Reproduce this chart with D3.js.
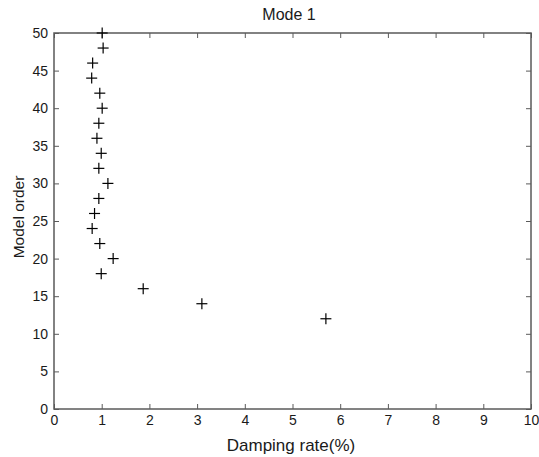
<!DOCTYPE html>
<html>
<head>
<meta charset="utf-8">
<script src="https://cdn.jsdelivr.net/npm/d3@7"></script>
<style>
  body { margin: 0; background: #fff; }
  text { font-family: "Liberation Sans", Arial, sans-serif; fill: #1a1a1a; }
</style>
</head>
<body>
<svg id="vis"></svg>
<script>
// damping rate (%) per model order
const modelOrder = [50, 48, 46, 44, 42, 40, 38, 36, 34, 32, 30, 28, 26, 24, 22, 20, 18, 16, 14, 12];
const dampingRate = [1.01, 1.03, 0.81, 0.79, 0.96, 1.01, 0.94, 0.90, 0.99, 0.94, 1.13, 0.94, 0.85, 0.80, 0.96, 1.24, 0.99, 1.87, 3.10, 5.70];
const xTicks = [0, 1, 2, 3, 4, 5, 6, 7, 8, 9, 10];
const yTicks = [0, 5, 10, 15, 20, 25, 30, 35, 40, 45, 50];

const width = 539, height = 457;
const margin = {left: 54, right: 8, top: 33, bottom: 48};
const AXIS_COLOUR = '#5a5a5a';

var svg = d3.select('#vis').attr('width', width).attr('height', height);

var x = d3.scaleLinear().domain([0, 10]).range([margin.left, width - margin.right]);
var y = d3.scaleLinear().domain([0, 50]).range([height - margin.bottom, margin.top]);

function styleAxis(g) {
    g.select('.domain').remove();
    g.selectAll('.tick line').attr('stroke', AXIS_COLOUR);
    g.selectAll('.tick text').attr('font-size', 14).attr('fill', '#1a1a1a')
        .attr('font-family', '"Liberation Sans", Arial, sans-serif');
}

// bottom and left with labels, top and right without (ticks point inward)
svg.append('g').attr('transform', 'translate(0,' + y(0) + ')')
    .call(d3.axisBottom(x).tickValues(xTicks).tickFormat(d3.format('d')).tickSizeInner(-5).tickSizeOuter(0).tickPadding(6))
    .call(styleAxis);
svg.append('g').attr('transform', 'translate(0,' + y(50) + ')')
    .call(d3.axisTop(x).tickValues(xTicks).tickFormat('').tickSizeInner(-5).tickSizeOuter(0))
    .call(styleAxis);
svg.append('g').attr('transform', 'translate(' + x(0) + ',0)')
    .call(d3.axisLeft(y).tickValues(yTicks).tickFormat(d3.format('d')).tickSizeInner(-5).tickSizeOuter(0).tickPadding(6))
    .call(styleAxis);
svg.append('g').attr('transform', 'translate(' + x(10) + ',0)')
    .call(d3.axisRight(y).tickValues(yTicks).tickFormat('').tickSizeInner(-5).tickSizeOuter(0))
    .call(styleAxis);

// box
svg.append('rect')
    .attr('x', x(0)).attr('y', y(50))
    .attr('width', x(10) - x(0)).attr('height', y(0) - y(50))
    .attr('fill', 'none').attr('stroke', AXIS_COLOUR).attr('stroke-width', 1.5);

// plus markers
var arm = 5.5;
var pts = svg.append('g').attr('stroke', '#000').attr('stroke-width', 1.2);
for (var i = 0; i < modelOrder.length; i++) {
    var cx = x(dampingRate[i]), cy = y(modelOrder[i]);
    pts.append('line').attr('x1', cx - arm).attr('x2', cx + arm).attr('y1', cy).attr('y2', cy);
    pts.append('line').attr('x1', cx).attr('x2', cx).attr('y1', cy - arm).attr('y2', cy + arm);
}

svg.append('text').attr('x', 289).attr('y', 20)
    .attr('text-anchor', 'middle').attr('font-size', 16).text('Mode 1');
svg.append('text').attr('x', 291).attr('y', 451)
    .attr('text-anchor', 'middle').attr('font-size', 17).text('Damping rate(%)');
svg.append('text').attr('transform', 'translate(24,217) rotate(-90)')
    .attr('text-anchor', 'middle').attr('font-size', 15.5).text('Model order');
</script>
</body>
</html>
